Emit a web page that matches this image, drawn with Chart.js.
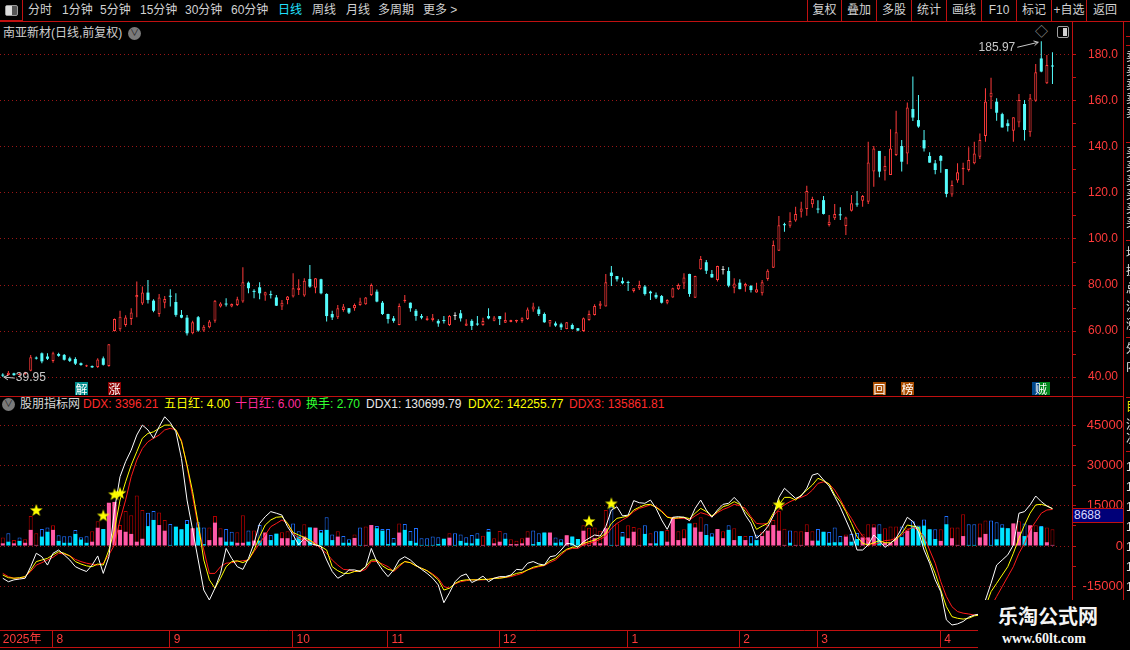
<!DOCTYPE html>
<html lang="zh-CN">
<head>
<meta charset="utf-8">
<title>南亚新材 日线</title>
<script src="https://cdn.jsdelivr.net/npm/chart.js@4.4.1/dist/chart.umd.min.js"></script>
<style>
  html, body { margin: 0; padding: 0; background: #000; }
  body { width: 1130px; height: 650px; overflow: hidden; position: relative;
         font-family: "Liberation Sans", "Noto Sans CJK SC", sans-serif; font-size: 12px; color: #d2d2d2; }
  .t { position: absolute; white-space: nowrap; line-height: 14px; }
  .h { position: absolute; height: 1px; background: #c01010; }
  .v { position: absolute; width: 1px; background: #c01010; }
  .btn { position: absolute; top: 3px; text-align: center; line-height: 14px; }
  canvas { position: absolute; left: 0; }
  .dot { position: absolute; width: 13px; height: 13px; border-radius: 7px; background: #7a7a7a; color: #222;
         font-size: 9px; line-height: 13px; text-align: center; }
  #col { position: absolute; left: 1123px; top: 21px; width: 7px; height: 629px; overflow: hidden; border-left: 1px solid #c01010; }
  #col div { position: absolute; left: 2px; color: #e0e0e0; font-size: 12px; line-height: 12px; white-space: nowrap; }
</style>
</head>
<body>

<!-- toolbar -->
<div style="position:absolute;left:0;top:0;width:22px;height:20px;border:1px solid #c01010;border-top:0;border-left:0"></div>
<div style="position:absolute;left:5px;top:5px;width:11px;height:9px;border:1px solid #9a9a9a;border-radius:2px;background:#555">
  <div style="width:6px;height:9px;background:#dcdcdc"></div>
</div>
<div class="t" style="left:28px;top:3px">分时</div>
<div class="t" style="left:62px;top:3px">1分钟</div>
<div class="t" style="left:100px;top:3px">5分钟</div>
<div class="t" style="left:140px;top:3px">15分钟</div>
<div class="t" style="left:185px;top:3px">30分钟</div>
<div class="t" style="left:231px;top:3px">60分钟</div>
<div class="t" style="left:278px;top:3px;color:#20e0ff">日线</div>
<div class="t" style="left:312px;top:3px">周线</div>
<div class="t" style="left:346px;top:3px">月线</div>
<div class="t" style="left:378px;top:3px">多周期</div>
<div class="t" style="left:423px;top:3px">更多 &gt;</div>

<div class="v" style="left:807px;top:0;height:21px"></div>
<div class="v" style="left:841px;top:0;height:21px"></div>
<div class="v" style="left:876px;top:0;height:21px"></div>
<div class="v" style="left:911px;top:0;height:21px"></div>
<div class="v" style="left:946px;top:0;height:21px"></div>
<div class="v" style="left:981px;top:0;height:21px"></div>
<div class="v" style="left:1016px;top:0;height:21px"></div>
<div class="v" style="left:1051px;top:0;height:21px"></div>
<div class="v" style="left:1086px;top:0;height:21px"></div>
<div class="btn" style="left:808px;width:33px">复权</div>
<div class="btn" style="left:842px;width:34px">叠加</div>
<div class="btn" style="left:877px;width:34px">多股</div>
<div class="btn" style="left:912px;width:34px">统计</div>
<div class="btn" style="left:947px;width:34px">画线</div>
<div class="btn" style="left:982px;width:34px">F10</div>
<div class="btn" style="left:1017px;width:34px">标记</div>
<div class="btn" style="left:1052px;width:34px">+自选</div>
<div class="btn" style="left:1087px;width:36px">返回</div>
<div class="h" style="left:0;top:21px;width:1130px"></div>

<!-- price panel header -->
<div class="t" style="left:3px;top:26px;color:#cfcfcf">南亚新材(日线,前复权)</div>
<div class="dot" style="left:128px;top:27px">&#8744;</div>
<div class="t" style="left:1035px;top:25px;color:#9a9a9a;font-size:13px">&#9671;</div>
<div style="position:absolute;left:1057px;top:26px;width:10px;height:10px;border:1px solid #a0a0a0;border-radius:2px">
  <div style="position:absolute;right:1px;top:1px;width:4px;height:8px;background:#d0d0d0"></div>
</div>
<div class="v" style="left:1072px;top:21px;height:17px"></div>

<canvas id="kline" width="1123" height="358" style="top:38px;width:1123px;height:358px"></canvas>
<div class="h" style="left:0;top:396px;width:1123px"></div>

<!-- indicator header -->
<div class="dot" style="left:2px;top:398px">&#8744;</div>
<div class="t" style="left:20px;top:397px;color:#d8d8d8">股朋指标网</div>
<div class="t" style="left:83px;top:397px;color:#ff2a2a">DDX: 3396.21</div>
<div class="t" style="left:164px;top:397px;color:#ffff00">五日红: 4.00</div>
<div class="t" style="left:235px;top:397px;color:#ff2a9a">十日红: 6.00</div>
<div class="t" style="left:306px;top:397px;color:#30ff30">换手: 2.70</div>
<div class="t" style="left:366px;top:397px;color:#e8e8e8">DDX1: 130699.79</div>
<div class="t" style="left:468px;top:397px;color:#ffff00">DDX2: 142255.77</div>
<div class="t" style="left:569px;top:397px;color:#ff2a2a">DDX3: 135861.81</div>
<div class="v" style="left:1072px;top:397px;height:13px"></div>

<canvas id="ddx" width="1123" height="240" style="top:410px;width:1123px;height:240px"></canvas>
<div class="h" style="left:0;top:647px;width:1123px"></div>

<div style="position:absolute;left:1073px;top:508px;width:50px;height:13px;background:#000078;border-top:1px solid #c01010;border-bottom:1px solid #c01010;color:#d8d8ff;font-size:12px;line-height:13px;padding-left:1px">8688</div>

<!-- right info column (cut off) -->
<div id="col">
  <div style="top:15px;height:1px;width:7px;background:#c01010"></div>
  <div style="top:24px;height:1px;width:7px;background:#c01010"></div>
  <div style="top:30px">卖</div><div style="top:44px">卖</div><div style="top:58px">卖</div><div style="top:72px">卖</div><div style="top:86px">卖</div>
  <div style="top:121px;height:1px;width:7px;background:#c01010"></div>
  <div style="top:126px">买</div><div style="top:140px">买</div><div style="top:154px">买</div><div style="top:168px">买</div><div style="top:182px">买</div><div style="top:196px">买</div>
  <div style="top:219px;height:1px;width:7px;background:#c01010"></div>
  <div style="top:226px">均</div><div style="top:244px">换</div><div style="top:262px">总</div><div style="top:280px">流</div><div style="top:298px">涨</div>
  <div style="top:316px;height:1px;width:7px;background:#c01010"></div>
  <div style="top:322px">外</div><div style="top:340px">内</div>
  <div style="top:376px;height:1px;width:7px;background:#c01010"></div>
  <div style="top:380px;color:#e0e000">目</div>
  <div style="top:398px">流</div><div style="top:412px">次</div>
  <div style="top:430px;height:1px;width:7px;background:#c01010"></div>
  <div style="top:440px">1</div><div style="top:460px">1</div><div style="top:480px">1</div><div style="top:500px">1</div><div style="top:520px">1</div><div style="top:540px">1</div><div style="top:560px">1</div>
</div>

<!-- watermark -->
<div style="position:absolute;left:978px;top:600px;width:152px;height:50px;background:#000"></div>
<div class="t" style="left:998px;top:604px;color:#f4f4f4;font-size:20px;line-height:24px;font-weight:bold;font-family:'Noto Sans CJK SC'">乐淘公式网</div>
<div class="t" style="left:1002px;top:631px;color:#f4f4f4;font-size:14px;line-height:16px;font-weight:bold;font-family:'Liberation Serif'">www.60lt.com</div>

<script>
// ---- data ----
const N_SLOTS = 192; // 189 trading days + 3 empty slots at the right edge
const dayIdx = Array.from({length: N_SLOTS}, (_, i) => i);

const monthTickIdx = [0, 9, 30, 52, 69, 89, 112, 132, 146, 168];
const monthTickLbl = ['2025年', ' 8', ' 9', ' 10', ' 11', ' 12', ' 1', ' 2', ' 3', ' 4'];

const priceTicks = [40, 60, 80, 100, 120, 140, 160, 180];
const priceTickLbl = ['40.00', '60.00', '80.00', '100.0', '120.0', '140.0', '160.0', '180.0'];
const ddxTicks = [-15000, 0, 15000, 30000, 45000];

const openP = [
  41.0, 40.9, 41.6, 40.9, 41.2, 42.7, 48.4, 50.3, 48.9, 47.0,
  50.0, 49.6, 48.1, 47.8, 46.0, 44.6, 44.8, 44.3, 48.1, 44.8,
  60.0, 60.8, 62.6, 65.2, 74.7, 72.0, 76.7, 73.2, 67.4, 72.3,
  75.2, 72.6, 67.0, 65.8, 59.0, 66.0, 60.2, 61.6, 64.5, 70.6,
  71.8, 70.6, 71.3, 72.8, 81.0, 77.3, 79.0, 75.4, 75.9, 74.6,
  70.6, 73.5, 75.0, 77.8, 75.4, 82.6, 78.8, 82.5, 76.1, 67.4,
  66.0, 69.1, 69.9, 69.9, 71.3, 71.6, 75.7, 77.1, 72.3, 67.4,
  65.5, 62.6, 73.0, 72.3, 68.8, 66.5, 64.8, 64.8, 64.4, 64.8,
  62.6, 66.5, 67.7, 62.3, 64.4, 63.1, 62.6, 66.5, 64.5, 66.5,
  63.6, 63.9, 64.1, 64.4, 65.2, 69.4, 69.4, 67.4, 63.3, 63.3,
  62.9, 60.9, 62.6, 61.2, 60.0, 64.8, 67.0, 71.0, 70.6, 85.4,
  83.9, 81.7, 81.2, 77.4, 78.6, 79.3, 77.1, 75.7, 75.2, 72.3,
  74.6, 78.2, 80.7, 84.8, 74.5, 86.8, 89.9, 84.8, 82.2, 86.5,
  86.1, 78.8, 81.0, 79.3, 79.6, 76.7, 76.4, 82.6, 87.5, 94.9,
  106.3, 105.8, 108.0, 111.9, 113.0, 115.1, 113.1, 116.9, 106.1, 109.0,
  110.6, 105.6, 112.3, 115.4, 116.6, 116.2, 129.3, 138.3, 129.7, 127.8,
  136.5, 140.4, 137.2, 156.5, 151.7, 143.0, 136.1, 132.9, 136.1, 130.4,
  119.4, 125.4, 130.3, 130.0, 132.9, 135.8, 144.8, 161.9, 159.7, 154.3,
  150.3, 147.1, 150.6, 158.7, 146.4, 160.1, 178.5, 167.7, 175.4
];
const closeP = [
  40.6, 41.9, 40.8, 41.3, 42.0, 48.6, 48.0, 46.8, 47.9, 50.3,
  49.2, 47.5, 47.0, 45.8, 45.2, 45.1, 44.2, 47.6, 45.3, 54.2,
  65.2, 66.2, 65.9, 68.0, 75.6, 76.7, 73.5, 68.8, 74.6, 73.9,
  74.9, 67.0, 65.8, 59.0, 63.8, 60.2, 61.9, 64.1, 73.2, 72.0,
  71.5, 71.7, 73.8, 81.2, 78.6, 77.0, 76.4, 76.8, 75.6, 71.0,
  72.3, 75.0, 78.6, 78.8, 81.9, 79.3, 82.9, 76.4, 66.5, 65.9,
  69.9, 70.6, 68.0, 71.3, 72.8, 74.6, 80.0, 72.8, 67.4, 65.2,
  64.4, 70.9, 73.6, 69.9, 66.5, 65.8, 65.5, 65.8, 63.3, 64.3,
  66.5, 66.5, 65.5, 63.3, 62.2, 62.8, 64.4, 65.5, 65.9, 65.2,
  64.8, 64.8, 64.8, 65.5, 69.4, 70.6, 67.4, 63.8, 64.8, 62.4,
  61.6, 63.8, 60.9, 60.2, 65.5, 67.4, 70.9, 72.0, 81.2, 83.9,
  82.5, 80.8, 80.9, 78.6, 80.0, 76.1, 76.4, 74.6, 72.3, 73.5,
  78.6, 80.0, 83.3, 76.1, 83.9, 91.3, 86.2, 83.3, 88.3, 86.5,
  79.7, 80.7, 78.2, 80.4, 77.8, 78.1, 81.2, 86.2, 97.4, 106.0,
  106.0, 107.8, 110.9, 113.3, 120.9, 117.4, 112.8, 110.9, 107.5, 110.9,
  110.3, 109.4, 115.5, 115.0, 118.7, 133.3, 139.4, 129.3, 131.7, 139.4,
  146.4, 133.6, 157.2, 152.8, 148.9, 139.4, 133.2, 130.0, 134.0, 119.6,
  123.5, 129.0, 131.0, 134.3, 137.2, 143.0, 159.8, 163.6, 154.9, 148.5,
  149.1, 152.9, 160.4, 147.4, 161.2, 172.5, 172.8, 175.6, 175.0
];
const highP = [
  41.6, 42.6, 41.9, 41.6, 42.3, 49.6, 48.9, 50.6, 50.3, 51.0,
  50.5, 50.0, 48.8, 48.6, 46.3, 45.3, 45.0, 48.2, 48.9, 54.4,
  65.4, 68.8, 66.9, 69.9, 81.5, 79.3, 82.2, 73.8, 76.1, 75.2,
  78.1, 76.4, 69.1, 67.0, 64.5, 66.5, 62.6, 64.8, 73.5, 72.5,
  74.2, 72.0, 74.9, 87.7, 81.5, 78.1, 81.2, 77.1, 77.5, 75.7,
  73.5, 75.2, 85.1, 82.5, 82.9, 88.7, 83.0, 82.7, 76.4, 68.8,
  71.3, 71.7, 69.9, 72.0, 74.5, 74.8, 80.7, 78.0, 73.0, 67.5,
  66.5, 72.0, 75.7, 72.4, 69.6, 67.4, 66.5, 67.4, 65.1, 66.5,
  67.0, 68.1, 69.1, 65.1, 65.1, 66.5, 65.8, 69.9, 66.5, 66.5,
  68.0, 64.9, 64.9, 66.0, 70.2, 72.3, 70.6, 68.0, 64.8, 64.1,
  63.6, 63.9, 63.3, 61.3, 65.9, 68.9, 71.6, 73.0, 84.8, 88.3,
  83.9, 83.3, 81.9, 78.6, 81.9, 80.0, 77.5, 76.7, 75.7, 73.8,
  78.8, 80.7, 85.1, 84.9, 84.0, 92.6, 90.9, 86.5, 88.4, 88.3,
  87.7, 82.9, 82.5, 81.0, 80.0, 81.0, 82.2, 86.8, 99.3, 110.0,
  107.1, 111.6, 114.0, 116.2, 123.2, 118.4, 116.9, 118.7, 110.4, 115.2,
  113.8, 109.7, 119.1, 120.9, 119.1, 142.3, 140.4, 138.3, 136.1, 147.7,
  155.8, 143.0, 159.4, 170.6, 162.6, 147.4, 137.7, 134.3, 136.5, 130.4,
  125.4, 132.9, 133.2, 139.9, 142.3, 145.9, 165.5, 170.1, 161.2, 154.9,
  152.0, 152.9, 163.0, 160.4, 163.0, 176.1, 185.97, 180.0, 181.2
];
const lowP = [
  39.95, 40.7, 40.5, 40.6, 41.0, 42.5, 47.6, 46.0, 47.4, 46.2,
  48.8, 47.2, 46.5, 45.2, 44.9, 44.4, 43.9, 43.9, 45.0, 44.5,
  59.8, 60.0, 61.9, 62.6, 66.0, 71.3, 72.0, 68.2, 66.2, 69.9,
  70.6, 66.2, 65.5, 58.0, 58.6, 59.7, 59.7, 61.2, 63.6, 70.2,
  70.6, 70.3, 70.9, 72.3, 76.4, 74.2, 73.8, 73.2, 74.1, 70.9,
  69.1, 71.6, 74.6, 75.7, 74.9, 78.8, 76.4, 76.0, 64.1, 64.8,
  65.2, 68.4, 67.4, 68.8, 71.0, 71.4, 75.2, 72.5, 67.0, 63.3,
  63.6, 62.5, 72.3, 68.4, 64.5, 65.1, 64.5, 64.1, 61.9, 63.3,
  62.2, 64.8, 64.1, 62.2, 60.4, 62.3, 62.3, 65.1, 64.2, 62.6,
  63.5, 63.8, 63.6, 63.6, 64.8, 68.4, 66.5, 63.6, 61.9, 61.9,
  60.4, 60.8, 60.7, 59.9, 59.7, 64.5, 66.7, 69.6, 70.6, 79.6,
  81.5, 80.3, 77.4, 76.7, 77.8, 75.4, 73.5, 73.9, 72.0, 71.6,
  74.5, 77.8, 78.3, 74.9, 74.4, 86.6, 84.8, 83.2, 81.5, 84.6,
  79.0, 76.4, 78.1, 77.1, 76.7, 76.6, 75.4, 81.9, 87.4, 94.8,
  103.2, 104.9, 107.5, 109.4, 110.1, 113.6, 111.2, 110.6, 105.4, 108.3,
  108.3, 101.7, 112.0, 114.0, 114.0, 115.2, 122.7, 126.8, 125.4, 127.8,
  136.1, 129.3, 132.5, 151.3, 148.4, 138.0, 133.1, 128.1, 128.8, 118.1,
  118.4, 124.5, 123.5, 129.3, 132.5, 134.8, 142.3, 156.5, 151.4, 148.5,
  146.7, 142.3, 148.6, 142.8, 144.5, 159.7, 172.5, 167.4, 167.4
];

// DDX bars: sign picks the red / blue scheme, height is the absolute value
const ddxOuter = [
  3200, -4700, 2200, -3200, 2500, 11200, 4700, -6300, -6900, 7700,
  -4000, -3600, -3600, -6000, -3300, -3600, 5500, 9200, -6300, 16100,
  16400, 7800, 13000, 11400, 18800, 13400, -12400, -13000, 12500, 9700,
  -8200, -7200, -6200, -9700, 6600, -8800, -6900, 6900, 11200, 6600,
  -6300, -5300, 5100, 11400, -5800, 5800, -7800, 5000, -4100, -4600,
  5100, 5500, -8400, -5500, 8100, -6900, 6800, -6000, -10700, -4300,
  5500, -3700, -2500, 4300, -6900, 7300, 7800, -7400, -6300, -6300,
  -3000, 8400, -8200, -5600, -6700, -2900, -2900, -3500, -3300, -2700,
  4700, -4700, -4300, -3300, -4100, -4700, 3800, -6300, 2900, 5600,
  -4700, 2500, 2000, 2900, 5500, -5800, -4700, -5000, 5000, -3200,
  -2500, 4000, -3500, -2600, 7700, 6800, 6900, 5700, 13400, -14600,
  8400, -5200, 7700, 7100, 6600, -7700, 4700, -5500, -5500, 6000,
  10700, 5500, 6200, -8400, 8700, 10700, -8100, -4700, 6300, 5500,
  -7700, 6600, -3700, 3700, -3700, -4200, 5300, 7800, 9700, 13000,
  6400, -5800, 5500, 5500, 8100, 5500, -6300, -5300, -5200, -6900,
  -3700, 4300, -4500, -4800, 4600, 8100, 8100, -8100, 6600, 7300,
  7300, -7300, 6600, -9200, -7600, -9900, -6200, -6200, 6200, -11200,
  6900, 6900, 11800, -8100, -8100, 8400, 9500, -9500, -8800, -8100,
  -6600, 8400, 9200, -8400, 7700, 7700, -7400, 6900, 6200
];
const ddxInner = [
  1000, -1600, 1000, -1900, 1200, 6000, 400, -3500, -5300, 6000,
  -1900, -1200, -1200, -4500, -2400, -1200, 1600, 6800, -6300, 16100,
  16400, 6000, 5300, 4500, 1600, 2700, -7400, -9700, 7800, 5700,
  -400, -7200, -6200, -8200, 6600, -6900, -700, 2200, 8700, 3200,
  -1600, -1600, 1200, 1200, -1600, 2000, -2000, 5000, -2200, -4600,
  2900, 2900, -2200, -3500, 3500, -6900, 6800, -5000, -6000, -2200,
  3500, -1200, -1200, 3000, -400, 400, 7800, -6600, -5700, -700,
  -1200, 5000, -6000, -1900, -1200, -400, -400, -400, -700, -2700,
  3100, -400, -1900, -1200, -1000, -2700, 400, -5300, 1000, 1600,
  -2700, 700, 700, 1000, 3100, -700, -1500, -5000, 5000, -1200,
  -1400, 4000, -3500, -2600, 5700, 400, 2900, 1000, 6600, -400,
  400, -3500, 2900, 5300, 400, -4500, 1000, -1000, -5500, 1600,
  10700, 2200, 2900, -8400, 6900, 5300, -4100, -3500, 6300, 2900,
  -6000, 2200, -3700, 2200, -1000, -2200, 3700, 5700, 7800, 5700,
  400, -1200, 400, 400, 5200, 2000, -2000, -5300, -1200, -1400,
  -1400, 3500, -1600, -2600, 3200, 3200, 6900, -4500, 1200, 1200,
  3100, -3300, 5700, -7400, -7200, -7600, -6200, -2600, 1900, -8100,
  2900, 400, 3700, -400, -400, 3200, 4500, -400, -2500, -6800,
  -6600, 8400, 5300, -3700, 7700, 5200, -7200, 1400, 400
];
const ddx1 = [
  -12000, -13300, -12600, -12300, -12000, -7700, -2700, -4000, -7100, -2700,
  -1500, -3300, -5200, -7700, -8700, -9500, -7100, -3700, -10200, -4000,
  13400, 25800, 31400, 35700, 41300, 45000, 43200, 40100, 44400, 48100,
  45900, 42500, 32600, 17100, 6000, -5200, -16400, -20100, -15700, -10200,
  -900, -4600, -7700, -8700, -4600, 1000, 8400, 10900, 12800, 12200,
  11500, 7200, 4100, 400, 2900, 1000, 400, -200, -5200, -9500,
  -12000, -10800, -8900, -8900, -9500, -7700, -900, -5800, -8900, -11400,
  -8900, -5200, -4000, -5200, -7100, -8700, -10200, -12000, -14500, -21100,
  -17400, -13300, -11200, -10400, -13600, -12600, -11200, -13300, -12000, -11400,
  -11400, -10800, -8700, -8900, -6400, -5800, -6700, -7100, -4000, -3600,
  -1500, 1000, 700, -500, 1600, 2900, 4100, 3700, 7200, 13400,
  14600, 11200, 11500, 16900, 16100, 15900, 17100, 14000, 9700, 6200,
  10700, 10900, 10700, 9400, 14000, 17100, 13400, 10700, 13400, 15500,
  15900, 18100, 15900, 11500, 8400, 2900, 4700, 7200, 11200, 18100,
  21500, 19600, 17700, 18600, 21500, 26400, 27000, 24600, 22300, 18400,
  14400, 9700, 5000, -1500, -1500, 400, 4100, 2000, -500, 1000,
  2900, 6600, 10700, 9100, 5300, -1500, -6400, -12600, -17000, -27500,
  -29400, -29000, -28100, -26500, -25700, -25300, -20100, -13900, -7100, -5200,
  -3300, 400, 12200, 12800, 15300, 18600, 16500, 14900, 13900
];
const ddx2 = [
  -10800, -11800, -12000, -11800, -11400, -8900, -5800, -5200, -4600, -3300,
  -2100, -2700, -3700, -5800, -6700, -7400, -7700, -6700, -7100, -1500,
  6000, 17100, 23900, 30100, 35100, 40100, 41900, 42500, 43800, 45000,
  45000, 43200, 38800, 30100, 20200, 8400, -5200, -12600, -15700, -12000,
  -7700, -5800, -5500, -6200, -5200, -1500, 3500, 7800, 9700, 10700,
  10900, 8400, 5000, 4100, 3200, 2200, 600, -200, -1500, -7700,
  -9200, -10200, -10200, -9500, -9200, -7700, -5200, -5200, -7400, -8700,
  -9200, -7100, -5800, -6200, -7400, -8300, -9200, -10800, -12600, -16400,
  -15700, -13900, -12900, -12600, -12600, -12600, -12400, -12400, -12000, -12000,
  -11700, -11000, -10200, -9800, -8900, -7900, -7400, -7100, -5500, -4600,
  -2700, -1200, -500, -200, 1000, 1600, 2200, 3200, 4700, 8400,
  10300, 10700, 11200, 13400, 14400, 15300, 15500, 14400, 12800, 10700,
  10300, 10500, 10700, 10200, 12200, 14000, 12800, 11200, 12800, 14600,
  15300, 16500, 15500, 12800, 10300, 6200, 7400, 8400, 12200, 15300,
  18100, 18100, 17100, 19000, 20800, 22700, 25200, 24300, 23100, 19000,
  16500, 12800, 8400, 3500, 1000, 400, 1200, 2000, 1200, 1200,
  2500, 4700, 7800, 7400, 6900, 1000, -5200, -10200, -16400, -22600,
  -26300, -26900, -27200, -26900, -26000, -25700, -22600, -17000, -13900, -10800,
  -7700, -2700, 2900, 7800, 12200, 15300, 15500, 14900, 13900
];
const ddx3 = [
  -10200, -11400, -12000, -12000, -11400, -9500, -7100, -6200, -5200, -4200,
  -2700, -3000, -3600, -5000, -5800, -6400, -6800, -7100, -6400, -3300,
  400, 9700, 17100, 25800, 32000, 36300, 38800, 40100, 41300, 43200,
  43800, 43200, 39400, 29500, 18400, 7200, -1500, -10200, -10200, -7700,
  -6400, -6200, -5800, -5500, -5200, -2100, 1000, 4100, 7200, 8400,
  9700, 8400, 4700, 2900, 2200, 1900, 1000, -1200, -2700, -5200,
  -7100, -8700, -8900, -9500, -9500, -8700, -5800, -5800, -6700, -7700,
  -9500, -7700, -5800, -6200, -7400, -8300, -9200, -10400, -12000, -15100,
  -15700, -14100, -13300, -12900, -12600, -12600, -12600, -12400, -12000, -11800,
  -11700, -11400, -10800, -10200, -8900, -8300, -7700, -7300, -6100, -5200,
  -3300, -1500, -900, -900, 400, 1000, 1600, 2500, 3700, 6600,
  8400, 9700, 10900, 12800, 14000, 14600, 15300, 14600, 13100, 10900,
  10300, 10300, 10300, 9700, 11200, 12400, 11800, 10900, 12400, 13600,
  14400, 15500, 15000, 14000, 10900, 8400, 8200, 8400, 11200, 13600,
  15300, 16500, 17400, 18100, 19000, 20800, 23300, 23900, 23100, 20800,
  17400, 13400, 10300, 6600, 3700, 1600, 400, 1200, 2000, 2200,
  2900, 4100, 6000, 6900, 6000, 3500, -1500, -6400, -13300, -18800,
  -22600, -24400, -25000, -25300, -25700, -25700, -25000, -22600, -18800, -15100,
  -11400, -7700, -2700, 1000, 6000, 9100, 12200, 13400, 13600
];

// signal stars (五日红) and the text flags under the candles
const starIdx = [6, 18, 20, 21, 105, 109, 139];
const starVal = [13400, 11400, 19300, 19800, 9300, 15900, 15500];
const markerIdx = [14, 20, 157, 162, 186];
const markerTxt = ['解', '涨', '回', '榜', '贼'];

// ---- drawing ----
Chart.defaults.font.family = '"Liberation Sans", "Noto Sans CJK SC", sans-serif';
Chart.defaults.font.size = 12;

const AXIS_RED = '#c01010';
const LABEL_RED = '#ff3a3a';
const GRID_RED = '#9a1616';
const UP_RED = '#ff3b3b', DOWN_CYAN = '#54fcfc', DOJI = '#e6e6e6';

const candleCol = openP.map((o, i) => closeP[i] > o ? UP_RED : (closeP[i] < o ? DOWN_CYAN : DOJI));
const isUp = openP.map((o, i) => closeP[i] > o);

function arrow(ctx, x1, y1, x2, y2) {
  ctx.beginPath(); ctx.moveTo(x1, y1); ctx.lineTo(x2, y2); ctx.stroke();
  const a = Math.atan2(y2 - y1, x2 - x1);
  ctx.beginPath();
  ctx.moveTo(x2 - 5 * Math.cos(a - 0.5), y2 - 5 * Math.sin(a - 0.5));
  ctx.lineTo(x2, y2);
  ctx.lineTo(x2 - 5 * Math.cos(a + 0.5), y2 - 5 * Math.sin(a + 0.5));
  ctx.stroke();
}

const markColors = { '解': ['#008c8c'], '涨': ['#8c0000'], '回': ['#a84c00'], '榜': ['#a84c00'], '贼': ['#00488c', '#00861c'] };

const candleMarks = {
  id: 'candleMarks',
  afterDatasetsDraw(chart) {
    const {ctx, chartArea} = chart;
    const xs = chart.scales.x, ys = chart.scales.y;
    ctx.save();
    ctx.textAlign = 'center';
    ctx.textBaseline = 'middle';
    ctx.font = '12px "Noto Sans CJK SC"';
    markerIdx.forEach((idx, k) => {
      const ch = markerTxt[k];
      const cols = markColors[ch];
      const w = cols.length > 1 ? 18 : 13;
      const left = Math.round(xs.getPixelForValue(idx)) - Math.floor(w / 2);
      const top = chartArea.bottom - 14;
      ctx.fillStyle = cols[0];
      ctx.fillRect(left, top, w, 13);
      if (cols.length > 1) { ctx.fillStyle = cols[1]; ctx.fillRect(left + 7, top, w - 7, 13); }
      ctx.fillStyle = '#ffffff';
      ctx.fillText(ch, left + w / 2, top + 7);
    });

    // highest high / lowest low labels
    let hi = 0, lo = 0;
    highP.forEach((h, i) => { if (h > highP[hi]) hi = i; });
    lowP.forEach((l, i) => { if (l < lowP[lo]) lo = i; });
    ctx.font = '12px "Liberation Sans"';
    ctx.fillStyle = '#c8c8c8';
    ctx.strokeStyle = '#c8c8c8';
    ctx.lineWidth = 1;
    let x = xs.getPixelForValue(hi), y = ys.getPixelForValue(highP[hi]);
    ctx.textAlign = 'right';
    ctx.fillText(highP[hi].toFixed(2), x - 26, y + 6);
    arrow(ctx, x - 24, y + 6, x - 3, y + 1);
    x = xs.getPixelForValue(lo); y = ys.getPixelForValue(lowP[lo]);
    ctx.textAlign = 'left';
    ctx.fillText(lowP[lo].toFixed(2), x + 13, y + 1);
    arrow(ctx, x + 12, y + 1, x + 1, y);
    ctx.restore();
  }
};

const priceTicksAll = [];
for (let v = 40; v <= 180; v += 10) priceTicksAll.push(v);

new Chart(document.getElementById('kline'), {
  type: 'bar',
  data: {
    labels: dayIdx,
    datasets: [
      {
        data: lowP.map((l, i) => [l, highP[i]]),
        backgroundColor: candleCol,
        borderWidth: 0,
        barThickness: 1,
        inflateAmount: 0,
        grouped: false,
        order: 2
      },
      {
        data: openP.map((o, i) => [o, closeP[i]]),
        backgroundColor: candleCol.map((c, i) => isUp[i] ? '#000000' : c),
        borderColor: candleCol,
        borderWidth: isUp.map(u => u ? 1 : 0),
        borderSkipped: false,
        barThickness: 3,
        minBarLength: 1,
        inflateAmount: 0,
        grouped: false,
        order: 1
      }
    ]
  },
  options: {
    responsive: false,
    animation: false,
    layout: { padding: 0, autoPadding: false },
    plugins: { legend: { display: false }, tooltip: { enabled: false } },
    scales: {
      x: { type: 'category', display: false, offset: true },
      y: {
        position: 'right',
        min: 31.74,
        max: 187.39,
        afterBuildTicks: s => { s.ticks = priceTicksAll.map(v => ({ value: v })); },
        afterFit: s => { s.width = 51; s.paddingTop = 0; s.paddingBottom = 0; },
        ticks: {
          color: LABEL_RED,
          padding: 12,
          callback: v => { const k = priceTicks.indexOf(v); return k >= 0 ? priceTickLbl[k] : ''; }
        },
        grid: {
          color: c => priceTicks.includes(c.tick && c.tick.value) ? GRID_RED : 'rgba(0,0,0,0)',
          tickColor: AXIS_RED,
          tickLength: 4
        },
        border: { color: AXIS_RED, dash: [1, 3] }
      }
    }
  },
  plugins: [candleMarks]
});

// yellow star point image
const starImg = document.createElement('canvas');
starImg.width = 14; starImg.height = 14;
(function () {
  const sc = starImg.getContext('2d');
  sc.fillStyle = '#ffff00';
  sc.beginPath();
  for (let k = 0; k < 10; k++) {
    const r = k % 2 ? 2.7 : 6.6;
    const a = -Math.PI / 2 + k * Math.PI / 5;
    sc.lineTo(7 + r * Math.cos(a), 7.6 + r * Math.sin(a));
  }
  sc.closePath();
  sc.fill();
})();
const starData = new Array(N_SLOTS).fill(null);
starIdx.forEach((k, j) => { starData[k] = starVal[j]; });

const monthLines = {
  id: 'monthLines',
  afterDraw(chart) {
    const {ctx} = chart;
    const xs = chart.scales.x;
    ctx.save();
    ctx.strokeStyle = AXIS_RED;
    ctx.lineWidth = 1;
    monthTickIdx.forEach((v, k) => {
      if (k === 0) return;
      const px = Math.round(xs.getPixelForValue(v)) - 0.5;
      ctx.beginPath(); ctx.moveTo(px, xs.top); ctx.lineTo(px, xs.top + 17); ctx.stroke();
    });
    ctx.restore();
  }
};

const ddxTicksAll = [-15000, -7500, 0, 7500, 15000, 22500, 30000, 37500, 45000];

new Chart(document.getElementById('ddx'), {
  type: 'bar',
  data: {
    labels: dayIdx,
    datasets: [
      {
        data: ddxOuter.map(Math.abs),
        backgroundColor: '#000000',
        borderColor: ddxOuter.map(v => v >= 0 ? '#b00000' : '#1f70ff'),
        borderWidth: 1,
        barThickness: 4,
        inflateAmount: 0,
        grouped: false,
        order: 5
      },
      {
        data: ddxInner.map(Math.abs),
        backgroundColor: ddxInner.map(v => v >= 0 ? '#ff5aa8' : '#00e4ff'),
        borderWidth: 0,
        barThickness: 4,
        inflateAmount: 0,
        grouped: false,
        order: 4
      },
      { type: 'line', data: ddx3, borderColor: '#ff1a1a', borderWidth: 1, pointRadius: 0, tension: 0, order: 3 },
      { type: 'line', data: ddx2, borderColor: '#ffff00', borderWidth: 1, pointRadius: 0, tension: 0, order: 2 },
      { type: 'line', data: ddx1, borderColor: '#ffffff', borderWidth: 1, pointRadius: 0, tension: 0, order: 1 },
      { type: 'line', data: starData, showLine: false, pointStyle: starImg, pointRadius: 6, order: 0 }
    ]
  },
  options: {
    responsive: false,
    animation: false,
    layout: { padding: 0, autoPadding: false },
    plugins: { legend: { display: false }, tooltip: { enabled: false } },
    scales: {
      x: {
        type: 'category',
        offset: true,
        afterBuildTicks: s => { s.ticks = monthTickIdx.map(v => ({ value: v })); },
        afterFit: s => { s.height = 20; s.paddingLeft = 0; s.paddingRight = 0; },
        ticks: {
          color: LABEL_RED,
          align: 'start',
          padding: 2,
          maxRotation: 0,
          autoSkip: false,
          callback: (v, k) => monthTickLbl[k]
        },
        grid: { drawOnChartArea: false, drawTicks: false },
        border: { color: AXIS_RED }
      },
      y: {
        position: 'right',
        min: -31265,
        max: 50620,
        afterBuildTicks: s => { s.ticks = ddxTicksAll.map(v => ({ value: v })); },
        afterFit: s => { s.width = 51; s.paddingTop = 0; s.paddingBottom = 0; },
        ticks: {
          color: LABEL_RED,
          font: { size: 13 },
          padding: 2,
          crossAlign: 'far',
          callback: v => ddxTicks.includes(v) ? String(v) : ''
        },
        grid: {
          color: c => ddxTicks.includes(c.tick && c.tick.value) ? GRID_RED : 'rgba(0,0,0,0)',
          tickColor: AXIS_RED,
          tickLength: 4
        },
        border: { color: AXIS_RED, dash: [1, 3] }
      }
    }
  },
  plugins: [monthLines]
});
</script>
</body>
</html>
